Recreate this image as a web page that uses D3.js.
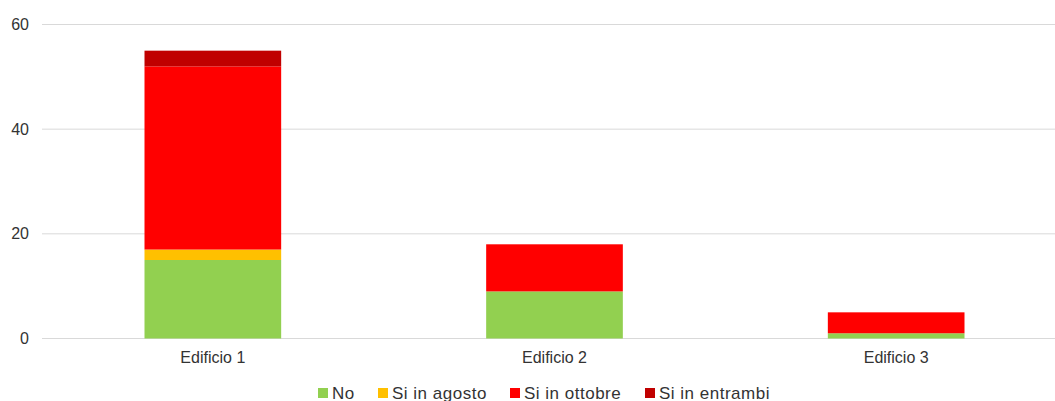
<!DOCTYPE html>
<html>
<head>
<meta charset="utf-8">
<script src="https://cdn.jsdelivr.net/npm/d3@7"></script>
<style>
  body { margin: 0; background: #fff; overflow: hidden; }
  text { font-family: "Liberation Sans", Arial, sans-serif; fill: #333; }
</style>
</head>
<body>
<script>
const categories = ['Edificio 1', 'Edificio 2', 'Edificio 3']
const seriesNames = ['No', 'Si in agosto', 'Si in ottobre', 'Si in entrambi']
const seriesColors = ['#92d050', '#ffc000', '#ff0000', '#c00000']
const valuesNo = [15, 9, 1]
const valuesAgosto = [2, 0, 0]
const valuesOttobre = [35, 9, 4]
const valuesEntrambi = [3, 0, 0]
const yTicks = [0, 20, 40, 60]

const width = 1055
const height = 401

// build rows for d3.stack
const rows = categories.map((c, i) => ({
    cat: c,
    'No': valuesNo[i],
    'Si in agosto': valuesAgosto[i],
    'Si in ottobre': valuesOttobre[i],
    'Si in entrambi': valuesEntrambi[i]
}))
const stacked = d3.stack().keys(seriesNames)(rows)

const x = d3.scaleBand()
    .domain(categories)
    .range([42, 1067])
    .paddingInner(0.6)
    .paddingOuter(0.3)

const y = d3.scaleLinear()
    .domain([0, 60])
    .range([338.5, 24.5])

const color = d3.scaleOrdinal().domain(seriesNames).range(seriesColors)

const svg = d3.select('body').append('svg')
    .attr('width', width)
    .attr('height', height)

// gridlines
svg.append('g')
    .selectAll('line')
    .data(yTicks)
    .enter().append('line')
    .attr('x1', 42)
    .attr('x2', width)
    .attr('y1', d => y(d))
    .attr('y2', d => y(d))
    .attr('stroke', '#d9d9d9')
    .attr('stroke-width', 1)

// y labels
svg.append('g')
    .selectAll('text')
    .data(yTicks)
    .enter().append('text')
    .attr('x', 29)
    .attr('y', d => y(d))
    .attr('dy', '0.35em')
    .attr('text-anchor', 'end')
    .style('font-size', '16px')
    .text(d => d)

// bars
svg.append('g')
    .selectAll('g')
    .data(stacked)
    .enter().append('g')
    .attr('fill', d => color(d.key))
    .selectAll('rect')
    .data(d => d)
    .enter().append('rect')
    .attr('x', d => x(d.data.cat))
    .attr('width', x.bandwidth())
    .attr('y', d => y(d[1]))
    .attr('height', d => y(d[0]) - y(d[1]))

// x labels
svg.append('g')
    .selectAll('text')
    .data(categories)
    .enter().append('text')
    .attr('x', d => x(d) + x.bandwidth() / 2)
    .attr('y', 363)
    .attr('text-anchor', 'middle')
    .style('font-size', '16px')
    .text(d => d)

// legend
const legendX = [318, 378, 510, 645]
const legend = svg.append('g')
    .selectAll('g')
    .data(seriesNames)
    .enter().append('g')
    .attr('transform', (d, i) => `translate(${legendX[i]}, 0)`)

legend.append('rect')
    .attr('x', 0)
    .attr('y', 388)
    .attr('width', 10)
    .attr('height', 10)
    .attr('fill', d => color(d))

legend.append('text')
    .attr('x', 14)
    .attr('y', 398.5)
    .style('font-size', '17px')
    .style('letter-spacing', '0.5px')
    .text(d => d)
</script>
</body>
</html>
